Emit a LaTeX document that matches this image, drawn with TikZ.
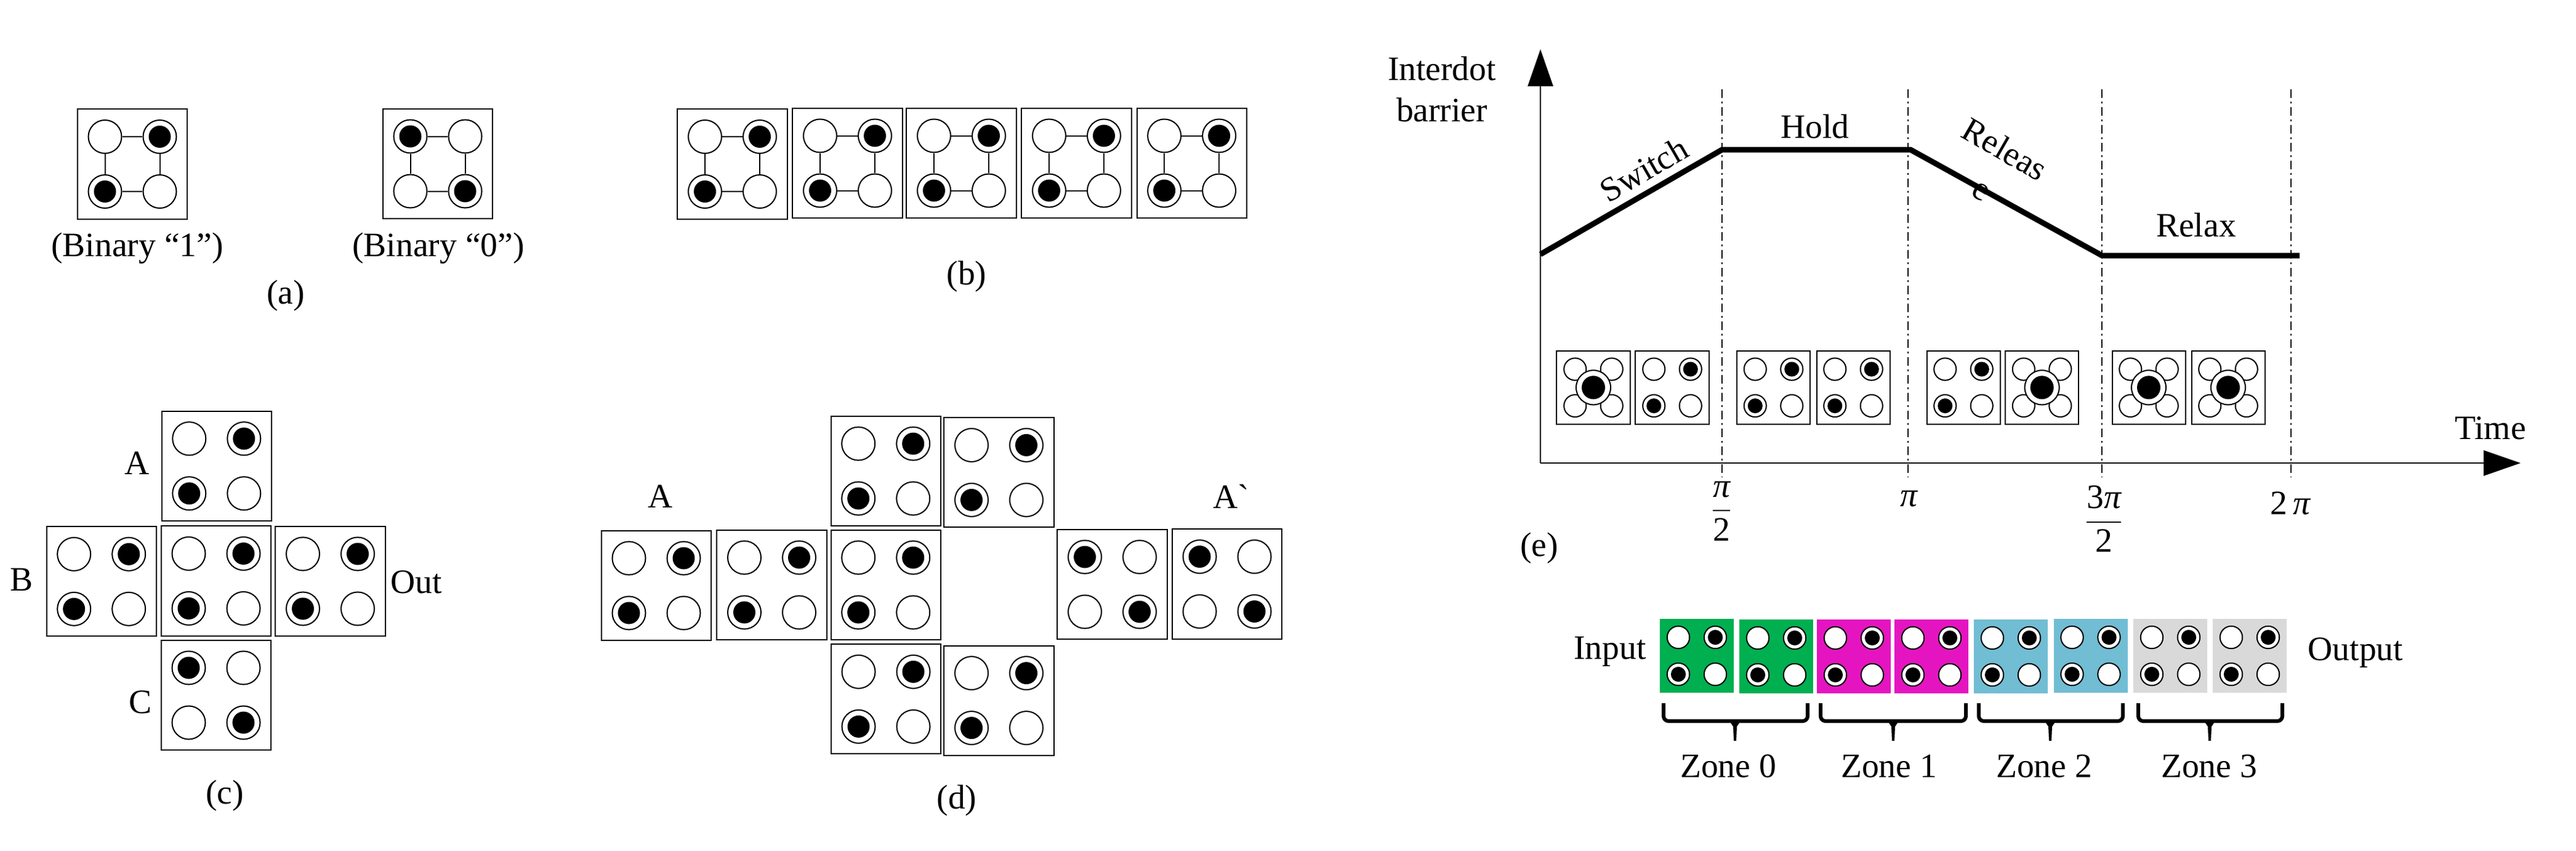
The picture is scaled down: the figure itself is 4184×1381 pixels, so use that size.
\documentclass[tikz,border=0pt]{standalone}
\usepackage{amsmath}
\usepackage{fontspec}
\setmainfont{Liberation Serif}
\newfontfamily\plainserif{Liberation Serif}
\usetikzlibrary{arrows.meta}

\definecolor{zonegreen}{HTML}{00AF50}
\definecolor{zonepink}{HTML}{E415C0}
\definecolor{zoneblue}{HTML}{71BDD4}
\definecolor{zonegrey}{HTML}{D9D9D9}

\tikzset{
  cellbox/.style={draw,rectangle,line width=0.02cm,inner sep=0pt,
    minimum size=\cellsize*1cm},
  qdot/.style={draw,circle,line width=0.02cm,fill=white,inner sep=0pt,
    minimum size=0.3034*\cellsize*1cm},
  qfull/.style={qdot,path picture={
    \fill[black] (path picture bounding box.center) circle [radius=0.1011*\cellsize*1cm];}},
  qcore/.style={draw,circle,line width=0.02cm,fill=white,inner sep=0pt,
    minimum size=0.56cm,path picture={
    \fill[black] (path picture bounding box.center) circle [radius=0.19cm];}},
  qlink/.style={line width=0.02cm},
  lbl/.style={inner sep=0pt,font=\fontsize{15.8}{19}\selectfont},
  phase/.style={line width=0.02cm,
    dash pattern=on 0.14cm off 0.06cm on 0.03cm off 0.06cm},
  barrier/.style={line width=0.09cm,line join=round},
  axis/.style={line width=0.025cm,-{Triangle[length=0.6cm,width=0.41cm]}},
  zonecurl/.style={line width=0.06cm,rounded corners=0.08cm}
}

% One cell: [box options]{name}{x}{y}{top left}{top right}{bottom left}{bottom right}
\newcommand{\qcell}[8][]{
  \begin{scope}[shift={(#3,#4)}]
    \pgfmathsetmacro{\cellgap}{25*\cellsize}
    \node[cellbox,#1] (#2) at (0,0) {};
    \node[#5] (#2tl) at (-\cellgap,-\cellgap) {};
    \node[#6] (#2tr) at (\cellgap,-\cellgap) {};
    \node[#7] (#2bl) at (-\cellgap,\cellgap) {};
    \node[#8] (#2br) at (\cellgap,\cellgap) {};
  \end{scope}
}
\newcommand{\cellone}[4][]{\qcell[#1]{#2}{#3}{#4}{qdot}{qfull}{qfull}{qdot}}
\newcommand{\cellzero}[4][]{\qcell[#1]{#2}{#3}{#4}{qfull}{qdot}{qdot}{qfull}}
\newcommand{\cellrelax}[3]{
  \qcell{#1}{#2}{#3}{qdot}{qdot}{qdot}{qdot}
  \node[qcore] (#1core) at (#2,#3) {};
}
\newcommand{\cellwires}[1]{
  \draw[qlink] (#1tl) -- (#1tr);
  \draw[qlink] (#1tr) -- (#1br);
  \draw[qlink] (#1br) -- (#1bl);
  \draw[qlink] (#1bl) -- (#1tl);
}
\newcommand{\zonebrace}[3]{
  \draw[zonecurl] (#1,1142) -- (#1,1171) -- (#3,1171) -- (#3,1142);
  \fill ({#2-9},1171) -- ({#2-3},1180) -- ({#2-2},1203) -- ({#2+2},1203)
    -- ({#2+3},1180) -- ({#2+9},1171) -- cycle;
}
\newcommand{\phasefrac}[2]{$\dfrac{\text{#1}\rule[-3pt]{0pt}{0pt}}{\rule{0pt}{12pt}\text{#2}}$}

\begin{document}
\begin{tikzpicture}[x=0.01cm,y=-0.01cm]
  \useasboundingbox (0,0) rectangle (4184,1381);
  % Cell size of panels (a) to (d)
  \def\cellsize{1.78}
  %
  % Panel (a)
  \cellone{aone}{215}{266.5}
  \cellwires{aone}
  \cellzero{azero}{711}{266}
  \cellwires{azero}
  \node[lbl] (aonetext) at (223,403) {(Binary “1”)};
  \node[lbl] (azerotext) at (712,403) {(Binary “0”)};
  \node[lbl] (alabel) at (464,480) {(a)};
  %
  % Panel (b)
  \cellone{bfirst}{1189.5}{266.5}
  \cellwires{bfirst}
  \cellone{bsecond}{1376.5}{265}
  \cellwires{bsecond}
  \cellone{bthird}{1561.5}{265}
  \cellwires{bthird}
  \cellone{bfourth}{1748.5}{265}
  \cellwires{bfourth}
  \cellone{bfifth}{1935.6}{265}
  \cellwires{bfifth}
  \node[lbl] (blabel) at (1570,449) {(b)};
  %
  % Panel (c)
  \cellone{cinA}{351.8}{756.8}
  \cellone{cinB}{164.7}{944.4}
  \cellone{cmid}{351}{943.5}
  \cellone{cout}{536.5}{944}
  \cellzero{cinC}{351}{1129}
  \node[lbl] (ctextA) at (223,752) {A};
  \node[lbl] (ctextB) at (35,941) {B};
  \node[lbl] (ctextC) at (228,1140) {C};
  \node[lbl] (ctextOut) at (676,945) {Out};
  \node[lbl] (clabel) at (365,1292) {(c)};
  %
  % Panel (d)
  \cellone{dleftA}{1066}{951}
  \cellone{dleftB}{1253.5}{950}
  \cellone{dmid}{1438.7}{950}
  \cellone{dtopA}{1438.7}{765}
  \cellone{dtopB}{1622.5}{767.4}
  \cellone{dbotA}{1439}{1135.4}
  \cellone{dbotB}{1622.5}{1137.6}
  \cellzero{drightA}{1806.5}{949}
  \cellzero{drightB}{1993}{948.5}
  \node[lbl] (dtextA) at (1073,806) {A};
  \node[lbl] (dtextB) at (2000,806) {A{\plainserif`}};
  \node[lbl] (dlabel) at (1554,1300) {(d)};
  %
  % Panel (e): axes
  \coordinate (origin) at (2502,752);
  \coordinate (ytop) at (2502,80);
  \coordinate (xend) at (4094,752);
  \draw[axis] (origin) -- (ytop);
  \draw[axis] (origin) -- (xend);
  \node[lbl,align=center,font=\fontsize{15.8}{19}\selectfont] (ytext) at (2342,145) {Interdot\\barrier};
  \node[lbl] (xtext) at (4045,695) {Time};
  %
  % Phase boundaries
  \draw[phase] (2797,144.7) -- (2797,775);
  \draw[phase] (3099,144.7) -- (3099,775);
  \draw[phase] (3414,144.7) -- (3414,775);
  \draw[phase] (3721,144.7) -- (3721,775);
  %
  % Barrier curve
  \coordinate (bstart) at (2502,413);
  \coordinate (bhold) at (2797,243);
  \coordinate (bdrop) at (3103,243);
  \coordinate (blow) at (3414,415);
  \coordinate (bend) at (3735,415);
  \draw[barrier] (bstart) -- (bhold) -- (bdrop) -- (blow) -- (bend);
  \node[lbl,rotate=30] (switch) at (2670,275) {Switch};
  \node[lbl] (hold) at (2948,205) {Hold};
  \node[lbl,rotate=-30,align=center,font=\fontsize{15.8}{21}\selectfont] (release) at (3238,274) {Releas\\e};
  \node[lbl] (relax) at (3567,365) {Relax};
  %
  % Phase cells
  \def\cellsize{1.19}
  \cellrelax{ecellA}{2588}{629.3}
  \cellone{ecellB}{2716}{629.3}
  \cellone{ecellC}{2880.5}{629.3}
  \cellone{ecellD}{3010}{629.3}
  \cellone{ecellE}{3189}{629.3}
  \cellrelax{ecellF}{3316.6}{629.3}
  \cellrelax{ecellG}{3490}{629.3}
  \cellrelax{ecellH}{3619}{629.3}
  %
  % Tick labels
  \node[lbl] (tickA) at (2796,830) {\phasefrac{\itshape π}{2}};
  \node[lbl] (tickB) at (3100,810) {\itshape π};
  \node[lbl] (tickC) at (3417,843) {\phasefrac{3\itshape π}{2}};
  \node[lbl] (tickD) at (3720,817) {2\,\itshape π};
  \node[lbl] (elabel) at (2500,890) {(e)};
  %
  % Zones
  \def\cellsize{1.2}
  \cellone[fill=zonegreen,draw=none]{zcellA}{2756}{1065}
  \cellone[fill=zonegreen,draw=none]{zcellB}{2885}{1066}
  \cellone[fill=zonepink,draw=none]{zcellC}{3011}{1066}
  \cellone[fill=zonepink,draw=none]{zcellD}{3137}{1066}
  \cellone[fill=zoneblue,draw=none]{zcellE}{3266}{1066}
  \cellone[fill=zoneblue,draw=none]{zcellF}{3395.5}{1065}
  \cellone[fill=zonegrey,draw=none]{zcellG}{3525}{1065}
  \cellone[fill=zonegrey,draw=none]{zcellH}{3654}{1065}
  \node[lbl] (input) at (2615,1058) {Input};
  \node[lbl] (output) at (3826,1060) {Output};
  %
  \zonebrace{2702}{2818}{2936}
  \zonebrace{2957}{3075}{3193}
  \zonebrace{3214}{3330}{3448}
  \zonebrace{3473}{3589}{3707}
  \node[lbl] (zoneA) at (2807,1244) {Zone 0};
  \node[lbl] (zoneB) at (3068,1244) {Zone 1};
  \node[lbl] (zoneC) at (3320,1244) {Zone 2};
  \node[lbl] (zoneD) at (3588,1244) {Zone 3};
  %
\end{tikzpicture}
\end{document}
